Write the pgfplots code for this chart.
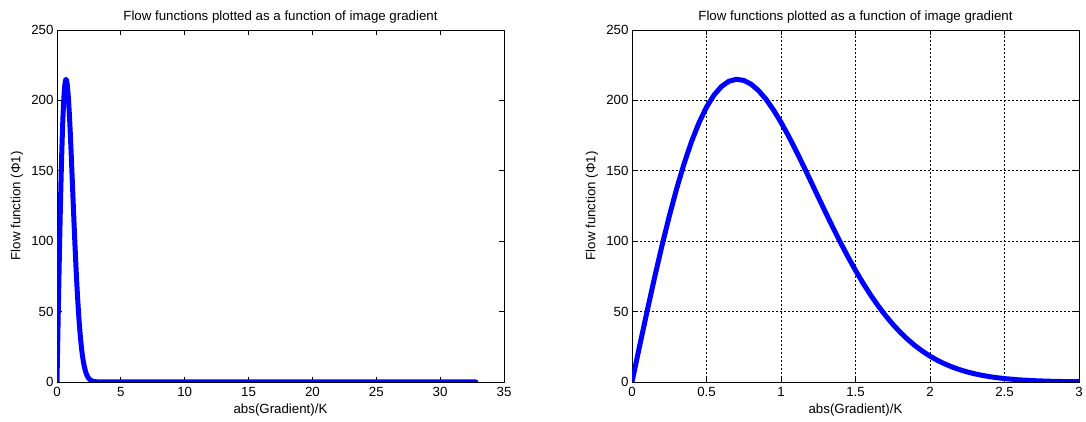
\documentclass[border=0pt]{standalone}
\usepackage{fontspec}
\setmainfont{Liberation Sans}
\usepackage{pgfplots}
\usepackage{pgfplotstable}
\pgfplotsset{compat=1.18}

% Flow function phi1 against |gradient|/K
\pgfplotstableread{
x     y
0.00  0.00
0.05  25.00
0.10  49.63
0.15  73.52
0.20  96.33
0.25  117.73
0.30  137.45
0.35  155.23
0.40  170.87
0.45  184.23
0.50  195.21
0.55  203.74
0.60  209.85
0.65  213.56
0.70  214.98
0.75  214.22
0.80  211.47
0.85  206.89
0.90  200.71
0.95  193.14
1.00  184.42
1.05  174.79
1.10  164.43
1.15  153.62
1.20  142.53
1.25  131.35
1.30  120.25
1.35  109.38
1.40  98.86
1.45  88.79
1.50  79.25
1.55  70.31
1.60  62.01
1.65  54.36
1.70  47.36
1.75  41.03
1.80  35.34
1.85  30.26
1.90  25.77
1.95  21.81
2.00  18.36
2.05  15.37
2.10  12.80
2.15  10.59
2.20  8.72
2.25  7.14
2.30  5.81
2.35  4.71
2.40  3.79
2.45  3.04
2.50  2.42
2.60  1.51
2.70  0.92
2.80  0.55
2.90  0.32
3.00  0.19
}\flowdata

% Flat tail of the same curve for large gradients
\pgfplotstableread{
x     y
3.00  0.19
4.00  0.00
6.00  0.00
10.00 0.00
15.00 0.00
20.00 0.00
25.00 0.00
30.00 0.00
32.80 0.00
}\flowtail

\pgfplotsset{
  flowaxis/.style={
    scale only axis,
    width=447pt, height=352pt,
    anchor=south west,
    ymin=0, ymax=250,
    ytick={0,50,100,150,200,250},
    tick align=inside,
    major tick length=5pt,
    axis line style={black, line width=0.8pt},
    every tick/.style={black, line width=0.8pt},
    /pgf/number format/assume math mode=true,
    tick label style={font=\fontsize{13.3}{15}\selectfont, black},
    xticklabel style={yshift=-1.5pt},
    title style={font=\fontsize{13.3}{15}\selectfont,
                 at={(axis description cs:0.5,1.0100)}, anchor=base},
    title={Flow functions plotted as a function of image gradient},
    xlabel={abs(Gradient)/K},
    ylabel={Flow function (Φ1)},
    every axis x label/.style={font=\fontsize{13.3}{15}\selectfont,
                 at={(axis description cs:0.5,-0.0795)}, anchor=center},
    every axis y label/.style={font=\fontsize{13.3}{15}\selectfont,
                 at={(axis description cs:-0.0895,0.5)}, anchor=center, rotate=90},
  },
  flowline/.style={blue, line width=5pt, line join=round, line cap=round},
}

\begin{document}
\begin{tikzpicture}[x=1pt,y=1pt]
\useasboundingbox (0,0) rectangle (1086,422);

\begin{axis}[flowaxis, at={(57pt,40pt)},
  xmin=0, xmax=35, xtick={0,5,...,35}]
  \addplot[flowline] table[x=x,y=y] {\flowdata};
  \addplot[flowline] table[x=x,y=y] {\flowtail};
\end{axis}

\begin{axis}[flowaxis, at={(632pt,40pt)},
  xmin=0, xmax=3, xtick={0,0.5,...,3},
  xmajorgrids, ymajorgrids,
  grid style={black, line width=0.6pt, dash pattern=on 2pt off 2pt}]
  \addplot[flowline] table[x=x,y=y] {\flowdata};
\end{axis}
\end{tikzpicture}
\end{document}
